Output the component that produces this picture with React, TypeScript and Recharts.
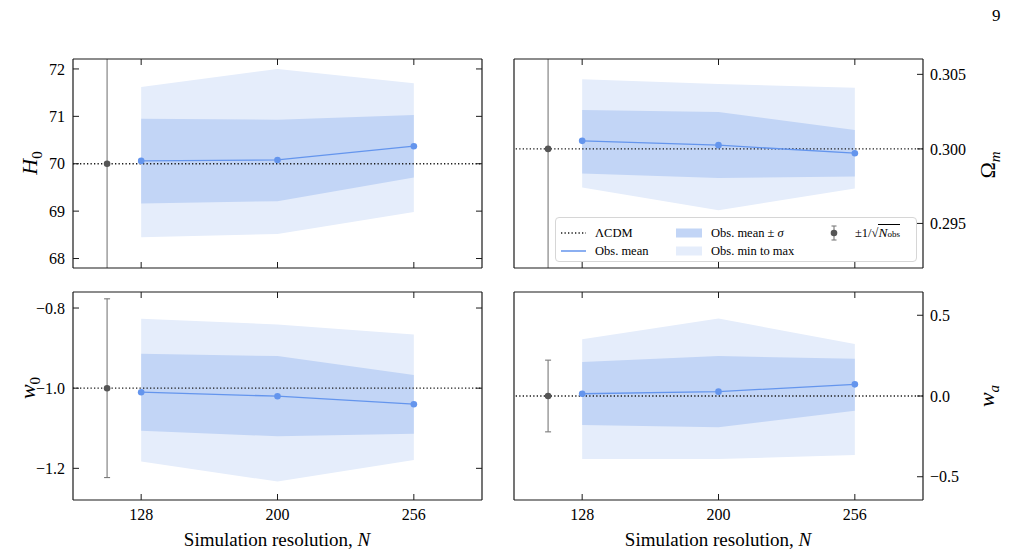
import { ComposedChart, Area, Line, Scatter, ErrorBar, XAxis, YAxis, ReferenceLine } from 'recharts'
import type { ReactNode } from 'react'

// simulation resolutions on the x axis, drawn at evenly spaced slots
const resolutions = ['128', '200', '256']
const slots = [0, 1, 2]
const refSlot = -0.25

// H0
const h0Mean = [70.06, 70.08, 70.37]
const h0SigLo = [69.16, 69.21, 69.71]
const h0SigHi = [70.95, 70.93, 71.03]
const h0Min = [68.45, 68.52, 68.98]
const h0Max = [71.62, 72.0, 71.7]
const h0Fid = 70
const h0Err = 3
const h0Ticks = [68, 69, 70, 71, 72]

// Omega_m
const omMean = [0.30054, 0.30025, 0.29971]
const omSigLo = [0.29835, 0.29804, 0.29815]
const omSigHi = [0.30261, 0.30248, 0.30127]
const omMin = [0.29741, 0.29588, 0.29734]
const omMax = [0.30467, 0.30435, 0.3041]
const omFid = 0.3
const omErr = 0.01
const omTicks = [0.295, 0.3, 0.305]

// w0
const w0Mean = [-1.01, -1.02, -1.04]
const w0SigLo = [-1.106, -1.12, -1.114]
const w0SigHi = [-0.914, -0.92, -0.967]
const w0Min = [-1.183, -1.233, -1.179]
const w0Max = [-0.827, -0.841, -0.866]
const w0Fid = -1.0
const w0Err = 0.223
const w0Ticks = [-1.2, -1.0, -0.8]

// wa
const waMean = [0.014, 0.027, 0.072]
const waSigLo = [-0.179, -0.194, -0.091]
const waSigHi = [0.21, 0.247, 0.231]
const waMin = [-0.39, -0.39, -0.365]
const waMax = [0.351, 0.48, 0.322]
const waFid = 0.0
const waErr = 0.222
const waTicks = [-0.5, 0, 0.5]

const BLUE = '#6495ED'
const SIGMA_FILL = '#c2d5f6'
const RANGE_FILL = '#e5edfb'
const INK = '#1a1a1a'
const BAR = '#7a7a7a'
const FONT = '"Liberation Serif", "DejaVu Serif", serif'

const minus = (s: string) => s.replace('-', '\u2212')

const buildRows = (mean: number[], lo: number[], hi: number[], min: number[], max: number[]) =>
  slots.map((x, i) => ({ x, mean: mean[i], sigma: [lo[i], hi[i]], range: [min[i], max[i]] }))

interface PanelProps {
  left: number
  top: number
  width: number
  height: number
  side: 'left' | 'right'
  bottom: boolean
  rows: any[]
  fid: number
  err: number
  domain: [number, number]
  ticks: number[]
  fmt: (v: number) => string
}

function Panel({ left, top, width, height, side, bottom, rows, fid, err, domain, ticks, fmt }: PanelProps) {
  const yId = side === 'left' ? 'l' : 'r'
  const tickStyle = { fill: '#000', fontSize: 16, fontFamily: FONT }
  const axisLine = { stroke: INK, strokeWidth: 1.2 }
  const tickLine = { stroke: INK, strokeWidth: 1 }
  const blank = () => ''
  // bars wider than the axis range run off the frame, so draw them as a clipped stem
  const barFits = fid - err >= domain[0] && fid + err <= domain[1]
  const stem = [
    { x: refSlot, v: fid - err },
    { x: refSlot, v: fid + err },
  ]
  return (
    <div style={{ position: 'absolute', left, top }}>
      <ComposedChart width={width} height={height} data={rows} margin={{ top: 0, right: 0, bottom: 0, left: 0 }}>
        <XAxis
          xAxisId="b"
          type="number"
          dataKey="x"
          domain={[-0.5, 2.5]}
          allowDataOverflow
          ticks={slots}
          tickFormatter={(v: number) => (bottom ? resolutions[v] : '')}
          height={bottom ? 56 : 12}
          tickSize={-6}
          tickMargin={15}
          tick={tickStyle}
          axisLine={axisLine}
          tickLine={tickLine}
        />
        <XAxis
          xAxisId="t"
          orientation="top"
          type="number"
          dataKey="x"
          domain={[-0.5, 2.5]}
          allowDataOverflow
          ticks={slots}
          tickFormatter={blank}
          height={bottom ? 12 : 19}
          tickSize={-6}
          axisLine={axisLine}
          tickLine={tickLine}
        />
        <YAxis
          yAxisId="l"
          type="number"
          domain={domain}
          allowDataOverflow
          ticks={ticks}
          width={side === 'left' ? 73 : 14}
          tickFormatter={side === 'left' ? fmt : blank}
          tick={side === 'left' ? tickStyle : false}
          tickLine={side === 'left' ? tickLine : false}
          tickSize={-6}
          tickMargin={14}
          axisLine={axisLine}
        />
        <YAxis
          yAxisId="r"
          orientation="right"
          type="number"
          domain={domain}
          allowDataOverflow
          ticks={ticks}
          width={side === 'left' ? 18 : 92}
          tickFormatter={side === 'left' ? blank : fmt}
          tick={tickStyle}
          tickSize={-6}
          tickMargin={13}
          axisLine={axisLine}
          tickLine={tickLine}
        />
        <Area
          xAxisId="b"
          yAxisId={yId}
          type="linear"
          dataKey="range"
          stroke="none"
          fill={RANGE_FILL}
          fillOpacity={1}
          isAnimationActive={false}
        />
        <Area
          xAxisId="b"
          yAxisId={yId}
          type="linear"
          dataKey="sigma"
          stroke="none"
          fill={SIGMA_FILL}
          fillOpacity={1}
          isAnimationActive={false}
        />
        <ReferenceLine xAxisId="b" yAxisId={yId} y={fid} stroke={INK} strokeWidth={1.3} strokeDasharray="1.3 2.2" />
        {!barFits && (
          <Line
            xAxisId="b"
            yAxisId={yId}
            data={stem}
            dataKey="v"
            type="linear"
            stroke={BAR}
            strokeWidth={1.1}
            dot={false}
            isAnimationActive={false}
          />
        )}
        <Line
          xAxisId="b"
          yAxisId={yId}
          type="linear"
          dataKey="mean"
          stroke={BLUE}
          strokeWidth={1.3}
          dot={{ r: 3.3, fill: BLUE, stroke: BLUE, strokeWidth: 0 }}
          isAnimationActive={false}
        />
        <Scatter
          xAxisId="b"
          yAxisId={yId}
          data={[{ x: refSlot, y: fid, err }]}
          dataKey="y"
          shape={(p: any) => <circle cx={p.cx} cy={p.cy} r={3.3} fill="#555" />}
          isAnimationActive={false}
        >
          {barFits && (
            <ErrorBar dataKey="err" direction="y" width={3} stroke={BAR} strokeWidth={1.1} isAnimationActive={false} />
          )}
        </Scatter>
      </ComposedChart>
    </div>
  )
}

function AxisTitle({ x, y, children }: { x: number; y: number; children: ReactNode }) {
  return (
    <div
      style={{
        position: 'absolute',
        left: x,
        top: y,
        transform: 'translate(-50%, -50%) rotate(-90deg)',
        fontSize: 22,
        fontFamily: FONT,
        whiteSpace: 'nowrap',
        lineHeight: '24px',
      }}
    >
      {children}
    </div>
  )
}

const sub = (s: string, italic = false) => (
  <span style={{ fontSize: 15, position: 'relative', top: 5, fontStyle: italic ? 'italic' : 'normal' }}>{s}</span>
)

function LegendBox() {
  const row = (y: number) => ({ position: 'absolute' as const, top: y - 8, lineHeight: '16px', whiteSpace: 'nowrap' as const })
  return (
    <div
      style={{
        position: 'absolute',
        left: 555,
        top: 217,
        width: 362,
        height: 45,
        boxSizing: 'border-box',
        border: '1px solid #d6d6d6',
        borderRadius: 4,
        background: 'rgba(255,255,255,0.8)',
        fontFamily: FONT,
        fontSize: 12.5,
      }}
    >
      <svg style={{ position: 'absolute', left: 0, top: 0 }} width={362} height={45}>
        <line x1={5} x2={30} y1={15} y2={15} stroke={INK} strokeWidth={1.3} strokeDasharray="1.3 2.2" />
        <line x1={5} x2={30} y1={33} y2={33} stroke={BLUE} strokeWidth={1.5} />
        <rect x={120} y={10.5} width={26} height={9} fill={SIGMA_FILL} />
        <rect x={120} y={28.5} width={26} height={9} fill={RANGE_FILL} />
        <line x1={278} x2={278} y1={8} y2={22} stroke={BAR} strokeWidth={1.1} />
        <line x1={275.5} x2={280.5} y1={8} y2={8} stroke={BAR} strokeWidth={1.1} />
        <line x1={275.5} x2={280.5} y1={22} y2={22} stroke={BAR} strokeWidth={1.1} />
        <circle cx={278} cy={15} r={3.3} fill="#555" />
      </svg>
      <span style={{ ...row(15), left: 39 }}>ΛCDM</span>
      <span style={{ ...row(33), left: 39 }}>Obs. mean</span>
      <span style={{ ...row(15), left: 155 }}>
        Obs. mean ± <i>σ</i>
      </span>
      <span style={{ ...row(33), left: 155 }}>Obs. min to max</span>
      <span style={{ ...row(15), left: 299 }}>
        ±1/√
        <span style={{ borderTop: '1px solid #000', fontStyle: 'italic', fontSize: 13.5 }}>
          N<span style={{ fontSize: 9, fontStyle: 'normal' }}>obs</span>
        </span>
      </span>
    </div>
  )
}

const caption = (
  <>
    Simulation resolution, <i>N</i>
  </>
)

const captionStyle = {
  position: 'absolute' as const,
  top: 540,
  transform: 'translate(-50%, -50%)',
  fontSize: 19,
  whiteSpace: 'nowrap' as const,
}

export default function App() {
  return (
    <div style={{ position: 'absolute', left: 0, top: 0, width: 1015, height: 556, background: '#fff', fontFamily: FONT }}>
      <div style={{ position: 'absolute', left: 992, top: 6, fontSize: 17 }}>9</div>

      <Panel
        left={0}
        top={40}
        width={500}
        height={240}
        side="left"
        bottom={false}
        rows={buildRows(h0Mean, h0SigLo, h0SigHi, h0Min, h0Max)}
        fid={h0Fid}
        err={h0Err}
        domain={[67.8, 72.21]}
        ticks={h0Ticks}
        fmt={(v) => String(v)}
      />
      <Panel
        left={500}
        top={40}
        width={515}
        height={240}
        side="right"
        bottom={false}
        rows={buildRows(omMean, omSigLo, omSigHi, omMin, omMax)}
        fid={omFid}
        err={omErr}
        domain={[0.29201, 0.30603]}
        ticks={omTicks}
        fmt={(v) => v.toFixed(3)}
      />
      <Panel
        left={0}
        top={280}
        width={500}
        height={276}
        side="left"
        bottom
        rows={buildRows(w0Mean, w0SigLo, w0SigHi, w0Min, w0Max)}
        fid={w0Fid}
        err={w0Err}
        domain={[-1.279, -0.76]}
        ticks={w0Ticks}
        fmt={(v) => minus(v.toFixed(1))}
      />
      <Panel
        left={500}
        top={280}
        width={515}
        height={276}
        side="right"
        bottom
        rows={buildRows(waMean, waSigLo, waSigHi, waMin, waMax)}
        fid={waFid}
        err={waErr}
        domain={[-0.644, 0.644]}
        ticks={waTicks}
        fmt={(v) => minus(v.toFixed(1))}
      />

      <AxisTitle x={31} y={163}>
        <i>H</i>
        {sub('0')}
      </AxisTitle>
      <AxisTitle x={29} y={388}>
        <i>w</i>
        {sub('0')}
      </AxisTitle>
      <AxisTitle x={989} y={165}>
        Ω{sub('m', true)}
      </AxisTitle>
      <AxisTitle x={988} y={396}>
        <i>w</i>
        {sub('a', true)}
      </AxisTitle>

      <LegendBox />

      <div style={{ ...captionStyle, left: 277 }}>{caption}</div>
      <div style={{ ...captionStyle, left: 718 }}>{caption}</div>
    </div>
  )
}
